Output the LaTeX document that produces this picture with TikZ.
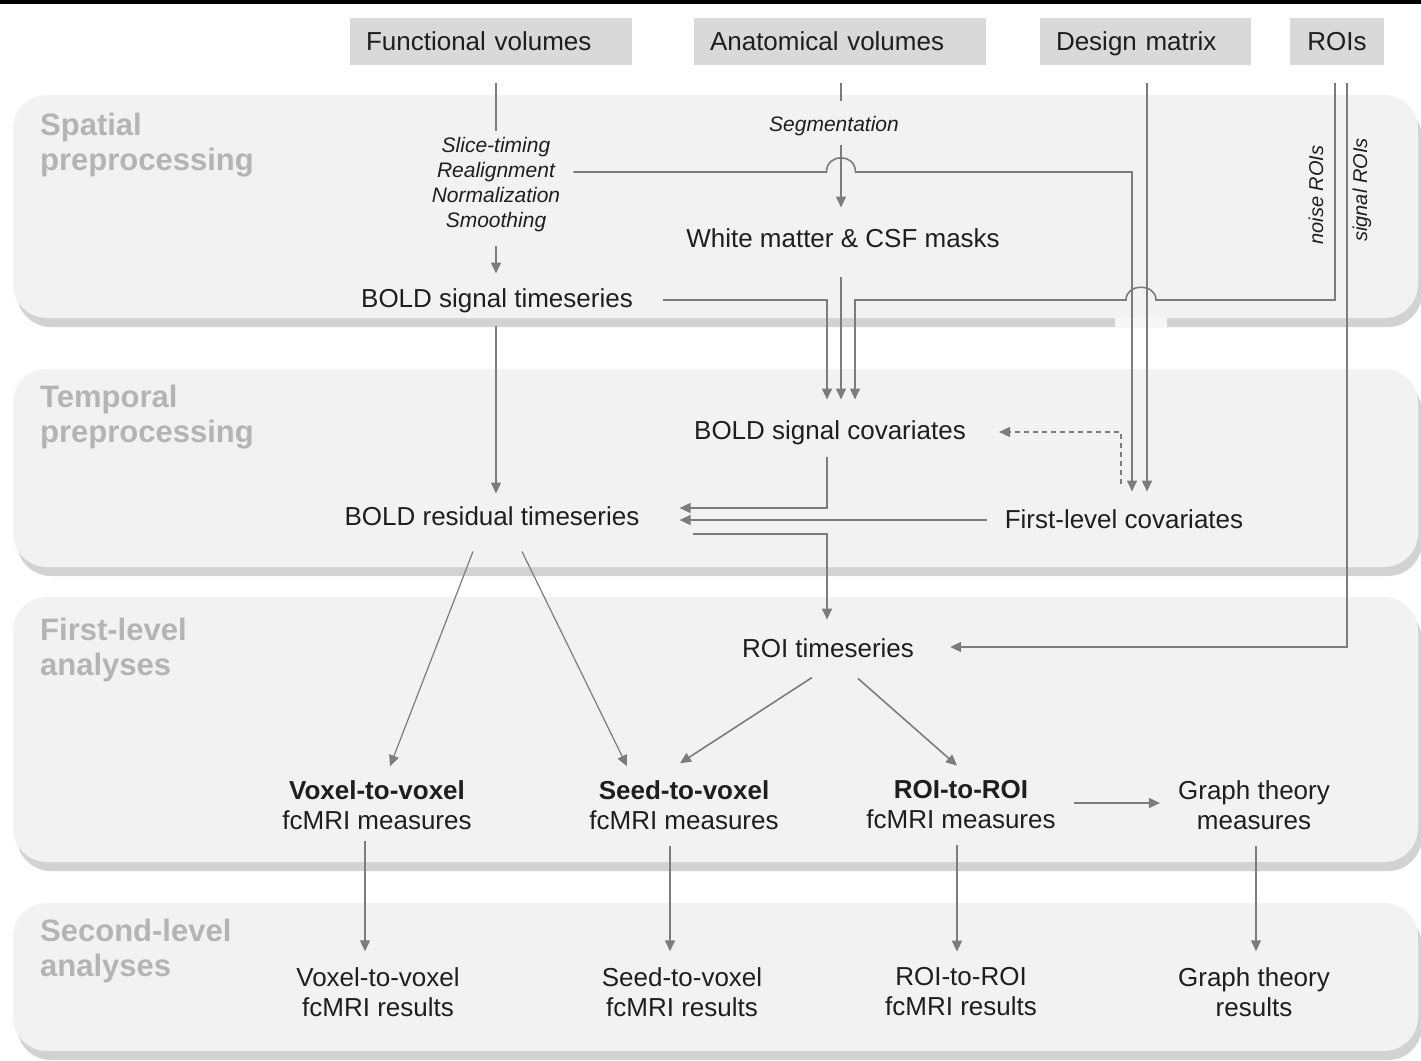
\documentclass[tikz,border=0pt]{standalone}
\usepackage{fontspec}
\setmainfont{Liberation Sans}
\usetikzlibrary{arrows.meta,calc}
\definecolor{bandfill}{HTML}{F2F2F2}
\definecolor{bandshadow}{HTML}{D2D2D2}
\definecolor{boxfill}{HTML}{D9D9D9}
\definecolor{labelgray}{HTML}{B4B4B4}
\definecolor{linegray}{HTML}{7C7C7C}
\definecolor{txtcol}{HTML}{1E1E1E}
\begin{document}
\begin{tikzpicture}[x=1pt,y=-1pt,
  ln/.style={draw=linegray,line width=1.6pt},
  arr/.style={ln,-{Triangle[length=11pt,width=10pt]}},
  arrthin/.style={draw=linegray,line width=1.2pt,-{Triangle[length=11pt,width=10pt]}},
  dashln/.style={arr,dash pattern=on 5pt off 4pt},
  topbox/.style={fill=boxfill,minimum height=47pt,inner xsep=16pt,inner ysep=0pt,align=left,
    font=\fontsize{26}{30}\selectfont,text=txtcol,text height=18.6pt,text depth=0pt},
  txt/.style={font=\fontsize{26}{30}\selectfont,text=txtcol,inner sep=0pt,text height=18.6pt,text depth=0pt},
  mtxt/.style={font=\fontsize{26}{30}\selectfont,text=txtcol,inner sep=0pt,align=center},
  itxt/.style={font=\fontsize{21}{25}\selectfont\itshape,text=txtcol,inner sep=0pt,align=center},
  rtxt/.style={font=\fontsize{20}{24}\selectfont\itshape,text=txtcol,inner sep=0pt,rotate=90},
  bandlabel/.style={font=\fontsize{31}{35}\selectfont\bfseries,text=labelgray,inner sep=0pt,anchor=base west}
]
\useasboundingbox (0,0) rectangle (1421,1060);
\fill[white] (0,0) rectangle (1421,1060);
\fill[black] (0,0) rectangle (1421,4);

% bands
\foreach \t/\b in {95/318, 369/567, 597/862, 903/1051} {
  \fill[bandshadow,rounded corners=34pt] (17,\t+9) rectangle (1422,\b+9);
  \fill[bandfill,rounded corners=34pt] (13,\t) rectangle (1418,\b);
}
\fill[bandfill!60!white] (1115,318) rectangle (1167,327);

% band labels
\node[bandlabel] (l1a) at (40,135) {Spatial};
\node[bandlabel] (l1b) at (40,170) {preprocessing};
\node[bandlabel] (l2a) at (40,407) {Temporal};
\node[bandlabel] (l2b) at (40,442) {preprocessing};
\node[bandlabel] (l3a) at (40,640) {First-level};
\node[bandlabel] (l3b) at (40,675) {analyses};
\node[bandlabel] (l4a) at (40,941) {Second-level};
\node[bandlabel] (l4b) at (40,976) {analyses};

% top boxes
\node[topbox,text width=250pt] (fv) at (491,41.5) {Functional volumes};
\node[topbox,text width=260pt] (av) at (840,41.5) {Anatomical volumes};
\node[topbox,text width=179pt] (dm) at (1145.5,41.5) {Design matrix};
\node[topbox,text width=62pt,align=center] (roi) at (1337,41.5) {ROIs};

% spatial preprocessing nodes
\node[itxt] (steps) at (496,184.5) {Slice-timing\\Realignment\\Normalization\\Smoothing};
\node[itxt,text height=15pt,text depth=0pt] (seg) at (834,124) {Segmentation};
\node[txt] (wm) at (843,238) {White matter \& CSF masks};
\node[txt] (bst) at (497,298) {BOLD signal timeseries};
\node[rtxt] (noiselbl) at (1316,195) {noise ROIs};
\node[rtxt] (signallbl) at (1362,190) {signal ROIs};

% temporal nodes
\node[txt] (bsc) at (830,430) {BOLD signal covariates};
\node[txt] (brt) at (492,516) {BOLD residual timeseries};
\node[txt] (flc) at (1124,519) {First-level covariates};

% first-level nodes
\node[txt] (roits) at (828,648) {ROI timeseries};
\node[mtxt] (vv) at (377,805) {\textbf{Voxel-to-voxel}\\fcMRI measures};
\node[mtxt] (sv) at (684,805) {\textbf{Seed-to-voxel}\\fcMRI measures};
\node[mtxt] (rr) at (961,805) {\textbf{ROI-to-ROI}\\fcMRI measures};
\node[mtxt] (gt) at (1254,805) {Graph theory\\measures};

% second-level nodes
\node[mtxt] (vvr) at (378,992) {Voxel-to-voxel\\fcMRI results};
\node[mtxt] (svr) at (682,992) {Seed-to-voxel\\fcMRI results};
\node[mtxt] (rrr) at (961,992) {ROI-to-ROI\\fcMRI results};
\node[mtxt] (gtr) at (1254,992) {Graph theory\\results};

% columns
\coordinate (c1) at (827,0);
\coordinate (segcol) at (841,0);
\coordinate (c3) at (855,0);
\coordinate (rcol) at (1132,0);
\coordinate (dcol) at (1147,0);
\coordinate (dashcol) at (1121,0);
\coordinate (ncol) at (1335,0);
\coordinate (scol) at (1347,0);

% functional -> steps -> BOLD signal timeseries
\draw[ln] ($(fv.south -| steps.north)+(0,18)$) -- ($(steps.north)+(0,-6)$);
\draw[arr] ($(steps.south)+(0,14)$) -- ($(steps.south |- bst.north)+(0,-15)$);

% anatomical -> segmentation -> masks
\draw[ln] ($(av.south -| segcol)+(0,18)$) -- ($(seg.north -| segcol)+(0,-15)$);
\draw[arr] ($(seg.south -| segcol)+(0,13)$) -- ($(wm.north -| segcol)+(0,-21)$);

% realignment parameters -> first-level covariates
\coordinate (realign) at ($(steps.east)+(13,-12.5)$);
\coordinate (flcin) at ($(flc.north)+(0,-18)$);
\draw[arr] (realign) -- ($(realign -| segcol)+(-14.5,0)$)
  .. controls +(0,-19) and +(0,-19) .. ($(realign -| segcol)+(14.5,0)$)
  -- (realign -| rcol) -- (rcol |- flcin);

% design matrix -> first-level covariates
\draw[arr] ($(dm.south -| dcol)+(0,18)$) -- (dcol |- flcin);

% into BOLD signal covariates
\coordinate (bline) at ($(bst.east)+(30,2)$);
\coordinate (bscin) at ($(bsc.north)+(0,-21)$);
\draw[arr] (bline) -| (c1 |- bscin);
\draw[arr] ($(wm.south -| segcol)+(0,29)$) -- (segcol |- bscin);
\draw[arr] ($(roi.south -| ncol)+(0,18)$) -- (ncol |- bline)
  -- ($(dcol |- bline)+(9,0)$)
  .. controls +(0,-17) and +(0,-17) .. ($(rcol |- bline)+(-6,0)$)
  -- (c3 |- bline) -- (c3 |- bscin);

% signal ROIs -> ROI timeseries
\draw[arr] ($(roi.south -| scol)+(0,18)$) |- ($(roits.east)+(36,-1)$);

% temporal connectors
\draw[arr] ($(bst.south)+(-1,18)$) -- ($(bst.south |- brt.north)+(-1,-13)$);
\draw[dashln] ($(flc.north -| dashcol)+(0,-26)$) |- ($(bsc.east)+(33,2)$);
\draw[arr] ($(bsc.south -| c1)+(0,17)$) |- ($(brt.east)+(40,-8)$);
\draw[arr] ($(flc.west)+(-18,1)$) -- ($(brt.east)+(40,4)$);
\draw[arr] ($(brt.east)+(53,18)$) -| ($(roits.north -| c1)+(0,-19)$);

% first-level connectors
\draw[arrthin] ($(brt.south)+(-19,26)$) -- ($(vv.north)+(13,-14)$);
\draw[arrthin] ($(brt.south)+(30,26)$) -- ($(sv.north)+(-57,-14)$);
\draw[arr] ($(roits.south)+(-16,20)$) -- ($(sv.north)+(-4,-17)$);
\draw[arr] ($(roits.south)+(30,21)$) -- ($(rr.north)+(-4,-15)$);
\draw[arr] ($(rr.east)+(18,-2)$) -- ($(gt.west)+(-18,-2)$);

% to second level
\draw[arrthin] ($(vv.south)+(-12,11)$) -- ($(vv.south |- vvr.north)+(-12,-16)$);
\draw[arr] ($(sv.south)+(-14,16)$) -- ($(sv.south |- svr.north)+(-14,-16)$);
\draw[arr] ($(rr.south)+(-4,16)$) -- ($(rr.south |- rrr.north)+(-4,-16)$);
\draw[arr] ($(gt.south)+(2,16)$) -- ($(gt.south |- gtr.north)+(2,-16)$);
\end{tikzpicture}
\end{document}
